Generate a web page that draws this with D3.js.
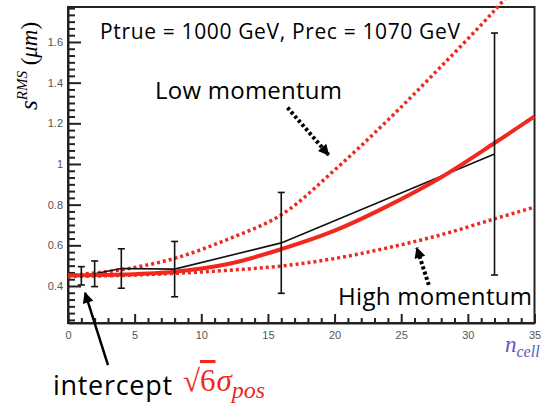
<!DOCTYPE html>
<html>
<head>
<meta charset="utf-8">
<script src="https://cdn.jsdelivr.net/npm/d3@7"></script>
<style>
  body { margin: 0; background: #fff; }
  svg { display: block; }
</style>
</head>
<body>
<div id="chart"></div>
<script>
// measured points (black line + error bars)
var nMeas = [1, 2, 4, 8, 16, 32];
var sMeas = [0.450, 0.460, 0.486, 0.483, 0.612, 1.049];
var sErr  = [0.045, 0.063, 0.097, 0.136, 0.248, 0.595];

// curves
var nCurve = [0, 4, 8, 12, 16, 20, 24, 28, 32, 35];
var sFit   = [0.452, 0.456, 0.470, 0.508, 0.581, 0.672, 0.794, 0.935, 1.103, 1.234];
var sLowP  = [0.452, 0.480, 0.536, 0.630, 0.750, 0.970, 1.216, 1.480, 1.755, 1.980];
var sHighP = [0.447, 0.452, 0.462, 0.477, 0.498, 0.535, 0.588, 0.652, 0.730, 0.788];

// axis ticks
var xTicks = [0, 5, 10, 15, 20, 25, 30, 35];
var yTicks = [0.4, 0.6, 0.8, 1.0, 1.2, 1.4, 1.6];
var yTickLabels = ["0.4", "0.6", "0.8", "1", "1.2", "1.4", "1.6"];

// annotation arrows, in data units
var lowArrow = [[16.47, 1.277], [19.55, 1.045]];
var highArrow = [[27.07, 0.405], [26.17, 0.587]];
var interceptArrow = [[3.0, 0.011], [1.28, 0.366]];

var red = "#f0281e";
var W = 549, H = 408;

var svg = d3.select("#chart").append("svg")
    .attr("width", W)
    .attr("height", H);

var x = d3.scaleLinear().domain([0, 35]).range([68, 534.5]);
var y = d3.scaleLinear().domain([0.218, 1.772]).range([323, 7]);

// arrow heads
var defs = svg.append("defs");
defs.append("marker")
    .attr("id", "head")
    .attr("viewBox", "0 0 10 10")
    .attr("refX", 9).attr("refY", 5)
    .attr("markerUnits", "userSpaceOnUse")
    .attr("markerWidth", 13).attr("markerHeight", 11)
    .attr("orient", "auto")
  .append("path")
    .attr("d", "M0,0 L10,5 L0,10 z")
    .attr("fill", "#000");

// frame
svg.append("rect")
    .attr("x", x(0)).attr("y", y(1.772))
    .attr("width", x(35) - x(0)).attr("height", y(0.218) - y(1.772))
    .attr("fill", "none")
    .attr("stroke", "#222")
    .attr("stroke-width", 2);

// minor ticks
var xMinor = d3.range(0, 36).filter(function(d) { return d % 5 !== 0; });
svg.append("g")
    .attr("transform", "translate(0," + y(0.218) + ")")
    .call(d3.axisBottom(x).tickValues(xMinor).tickSize(-5).tickSizeOuter(0).tickFormat(""))
    .call(function(g) { g.select(".domain").remove(); })
    .selectAll("line").attr("stroke", "#222").attr("stroke-width", 2);

var yMinor = d3.range(1, 48).map(function(k) { return 0.2 + k / 30; })
    .filter(function(d) { return Math.abs((d * 5) - Math.round(d * 5)) > 0.01; });
svg.append("g")
    .attr("transform", "translate(" + x(0) + ",0)")
    .call(d3.axisLeft(y).tickValues(yMinor).tickSize(-7).tickSizeOuter(0).tickFormat(""))
    .call(function(g) { g.select(".domain").remove(); })
    .selectAll("line").attr("stroke", "#222").attr("stroke-width", 2);

// major axes
var xAxis = svg.append("g")
    .attr("transform", "translate(0," + y(0.218) + ")")
    .call(d3.axisBottom(x).tickValues(xTicks).tickSize(-9).tickSizeOuter(0).tickPadding(8));
var yAxis = svg.append("g")
    .attr("transform", "translate(" + x(0) + ",0)")
    .call(d3.axisLeft(y).tickValues(yTicks).tickSize(-13).tickSizeOuter(0).tickPadding(5)
        .tickFormat(function(d, i) { return yTickLabels[i]; }));

[xAxis, yAxis].forEach(function(g) {
    g.select(".domain").attr("stroke", "#222").attr("stroke-width", 2);
    g.selectAll(".tick line").attr("stroke", "#222").attr("stroke-width", 2);
    g.selectAll(".tick text")
        .attr("fill", "#555")
        .style("font-family", "'Liberation Sans', Arial, sans-serif")
        .style("font-size", "11px");
});

// curves
var curveLine = function(vals) {
    return d3.line()
        .x(function(d, i) { return x(nCurve[i]); })
        .y(function(d) { return y(d); })
        .curve(d3.curveCatmullRom)(vals);
};

[sLowP, sHighP].forEach(function(vals) {
    svg.append("path")
        .attr("d", curveLine(vals))
        .attr("fill", "none")
        .attr("stroke", red)
        .attr("stroke-width", 3.5)
        .attr("stroke-dasharray", "3,3");
});

// measured line
svg.append("path")
    .datum(nMeas.map(function(n, i) { return [n, sMeas[i]]; }))
    .attr("fill", "none")
    .attr("stroke", "#111")
    .attr("stroke-width", 1.6)
    .attr("d", d3.line()
        .x(function(d) { return x(d[0]); })
        .y(function(d) { return y(d[1]); }));

// fit curve
svg.append("path")
    .attr("d", curveLine(sFit))
    .attr("fill", "none")
    .attr("stroke", red)
    .attr("stroke-width", 4);

// error bars
var bars = svg.append("g").attr("stroke", "#111").attr("stroke-width", 1.6);
nMeas.forEach(function(n, i) {
    var lo = y(sMeas[i] - sErr[i]), hi = y(sMeas[i] + sErr[i]), cx = x(n);
    bars.append("line").attr("x1", cx).attr("x2", cx).attr("y1", lo).attr("y2", hi);
    bars.append("line").attr("x1", cx - 3.5).attr("x2", cx + 3.5).attr("y1", lo).attr("y2", lo);
    bars.append("line").attr("x1", cx - 3.5).attr("x2", cx + 3.5).attr("y1", hi).attr("y2", hi);
});

// arrows
function arrow(pts, dashed, width) {
    svg.append("line")
        .attr("x1", x(pts[0][0])).attr("y1", y(pts[0][1]))
        .attr("x2", x(pts[1][0])).attr("y2", y(pts[1][1]))
        .attr("stroke", "#000")
        .attr("stroke-width", width)
        .attr("stroke-dasharray", dashed ? "3,2.5" : null)
        .attr("marker-end", "url(#head)");
}
arrow(lowArrow, true, 4);
arrow(highArrow, true, 4);
arrow(interceptArrow, false, 2.5);

// texts
var sans = "'Open Sans', 'Noto Sans', sans-serif";
var serif = "'Liberation Serif', 'DejaVu Serif', serif";

svg.append("text")
    .attr("x", 100).attr("y", 39)
    .attr("textLength", 360).attr("lengthAdjust", "spacing")
    .style("font-family", sans).style("font-size", "21px")
    .text("Ptrue = 1000 GeV, Prec = 1070 GeV");

svg.append("text")
    .attr("x", 155).attr("y", 99)
    .attr("textLength", 187).attr("lengthAdjust", "spacing")
    .style("font-family", sans).style("font-size", "24px")
    .text("Low momentum");

svg.append("text")
    .attr("x", 338).attr("y", 305)
    .attr("textLength", 194).attr("lengthAdjust", "spacing")
    .style("font-family", sans).style("font-size", "24px")
    .text("High momentum");

// y title
var yt = svg.append("text")
    .attr("transform", "translate(37,110) rotate(-90)")
    .style("font-family", serif).style("font-size", "23px");
yt.append("tspan").style("font-style", "italic").style("font-size", "25px").text("s");
yt.append("tspan").style("font-style", "italic").style("font-size", "15px")
    .attr("dy", -10).text("RMS");
yt.append("tspan").attr("dy", 10).text(" (");
yt.append("tspan").style("font-style", "italic").text("μm");
yt.append("tspan").text(")");

// x title
var xt = svg.append("text")
    .attr("x", 505).attr("y", 352)
    .attr("fill", "#5757cc")
    .style("font-family", serif).style("font-size", "23px").style("font-style", "italic");
xt.append("tspan").text("n");
xt.append("tspan").attr("dy", 5).style("font-size", "16px").text("cell");

// intercept label
svg.append("text")
    .attr("x", 53).attr("y", 395)
    .attr("textLength", 119).attr("lengthAdjust", "spacing")
    .style("font-family", sans).style("font-size", "27px")
    .text("intercept");

var it = svg.append("text")
    .attr("x", 183).attr("y", 391)
    .attr("fill", red)
    .style("font-family", serif).style("font-size", "31px");
it.append("tspan").text("√");
it.append("tspan").style("text-decoration", "overline").text("6");
it.append("tspan").attr("dx", 1).style("font-style", "italic").text("σ");
it.append("tspan").attr("dy", 7).style("font-style", "italic").style("font-size", "24px").text("pos");
</script>
</body>
</html>
